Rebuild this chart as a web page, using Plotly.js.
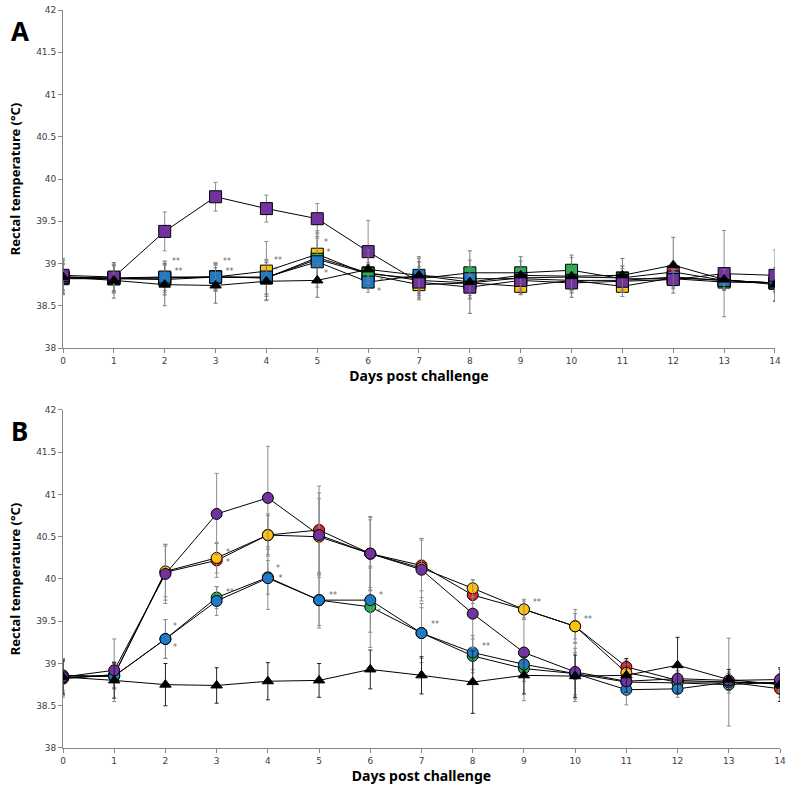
<!DOCTYPE html>
<html><head><meta charset="utf-8">
<script src="https://cdn.plot.ly/plotly-3.0.1.min.js"></script>
<style>body{margin:0;background:#fff}#g{width:792px;height:793px}</style>
</head><body><div id="g"></div>
<script>
const days = [0,1,2,3,4,5,6,7,8,9,10,11,12,13,14];

// Panel A (squares)
const aRed    = [38.82,38.82,38.83,38.84,38.83,39.07,38.89,38.80,38.77,38.83,38.84,38.83,38.90,38.80,38.77];
const aYellow = [38.83,38.82,38.83,38.84,38.91,39.11,38.87,38.75,38.77,38.73,38.80,38.73,38.83,38.80,38.77];
const aGreen  = [38.84,38.82,38.81,38.84,38.83,39.05,38.88,38.82,38.89,38.89,38.92,38.82,38.82,38.78,38.77];
const aBlue   = [38.84,38.83,38.84,38.84,38.84,39.02,38.78,38.86,38.82,38.82,38.80,38.80,38.84,38.80,38.77];
const aPurple = [38.86,38.84,39.38,39.79,39.65,39.53,39.14,38.78,38.72,38.80,38.77,38.79,38.81,38.88,38.86];
const aRedErr    = [0.18,0.15,0.15,0.14,0.20,0.30,0.12,0.22,0.15,0.12,0.15,0.14,0.10,0.10,0.10];
const aYellowErr = [0.20,0.17,0.20,0.17,0.35,0.28,0.12,0.18,0.18,0.10,0.14,0.12,0.10,0.10,0.10];
const aGreenErr  = [0.16,0.16,0.18,0.16,0.22,0.25,0.10,0.20,0.15,0.14,0.15,0.15,0.12,0.10,0.12];
const aBlueErr   = [0.15,0.15,0.18,0.15,0.20,0.30,0.12,0.20,0.14,0.12,0.12,0.14,0.10,0.10,0.10];
const aPurpleErr = [0.20,0.17,0.23,0.17,0.16,0.18,0.37,0.18,0.14,0.12,0.12,0.10,0.10,0.51,0.30];

// Panel B (circles)
const bRed    = [38.82,38.87,40.08,40.22,40.52,40.58,40.30,40.16,39.81,39.64,39.44,38.96,38.80,38.78,38.70];
const bYellow = [38.83,38.86,40.09,40.25,40.52,40.50,40.30,40.13,39.89,39.64,39.44,38.89,38.78,38.78,38.77];
const bGreen  = [38.84,38.85,39.29,39.78,40.02,39.75,39.67,39.36,39.09,38.94,38.88,38.78,38.77,38.75,38.78];
const bBlue   = [38.86,38.85,39.29,39.74,40.01,39.75,39.75,39.36,39.13,38.99,38.88,38.69,38.70,38.78,38.76];
const bPurple = [38.84,38.92,40.06,40.77,40.96,40.52,40.30,40.11,39.59,39.13,38.90,38.79,38.82,38.80,38.81];
const bRedErr    = [0.22,0.15,0.33,0.20,0.25,0.52,0.43,0.30,0.10,0.10,0.20,0.08,0.10,0.10,0.10];
const bYellowErr = [0.20,0.15,0.30,0.18,0.23,0.45,0.40,0.35,0.10,0.12,0.15,0.10,0.08,0.10,0.10];
const bGreenErr  = [0.18,0.15,0.23,0.13,0.20,0.30,0.48,0.30,0.20,0.15,0.25,0.15,0.10,0.10,0.10];
const bBlueErr   = [0.18,0.15,0.23,0.17,0.37,0.33,0.38,0.35,0.20,0.15,0.30,0.18,0.10,0.52,0.10];
const bPurpleErr = [0.22,0.37,0.35,0.48,0.61,0.50,0.44,0.37,0.40,0.57,0.35,0.15,0.10,0.10,0.12];

// Control (triangles), same in both panels
const control    = [38.84,38.80,38.75,38.74,38.79,38.80,38.93,38.86,38.78,38.86,38.85,38.86,38.98,38.81,38.75];
const controlErr = [0.20,0.21,0.25,0.21,0.22,0.20,0.23,0.22,0.37,0.22,0.25,0.20,0.33,0.12,0.20];

// significance marks: [day, y, text, xshift]
const starsA = [[2,38.96,'**<br> **',13],[3,38.96,'**<br> **',13],[4,38.98,'**<br>*',12],
  [5,39.06,'*<br> *<br> *<br>*',10],[6,38.73,' *<br>*',12]];
const starsB = [[2,39.31,'*<br><br>*',10],[3,40.25,'*<br>*',11],[3,39.84,'**',13],
  [4,40.06,'*<br> *',12],[5,39.80,'**',14],[6,39.81,'*',11],[6,39.60,'*',9],
  [7,39.46,'**',13],[8,39.20,'**',13],[9,39.72,'**',13],[10,39.52,'**',13]];

const colors = {red:'#E5242B', yellow:'#FFC20E', green:'#22B14C', blue:'#1F7BC6', purple:'#7232A0'};

function tr(y, err, color, symbol, size, xa, ya, ecol){
  return {x: days, y: y, type:'scatter', mode:'lines+markers', xaxis:xa, yaxis:ya,
    line:{color:'#000', width:1},
    marker:{symbol:symbol, size:size, color:color, line:{color:'#000', width:1}},
    error_y:{type:'data', array:err, visible:true, color:ecol||'#8c8c8c', thickness:1, width:2},
    showlegend:false, hoverinfo:'skip'};
}

const data = [
  tr(aRed, aRedErr, colors.red, 'square', 12, 'x', 'y'),
  tr(aYellow, aYellowErr, colors.yellow, 'square', 12, 'x', 'y'),
  tr(aGreen, aGreenErr, colors.green, 'square', 12, 'x', 'y'),
  tr(aBlue, aBlueErr, colors.blue, 'square', 12, 'x', 'y'),
  tr(aPurple, aPurpleErr, colors.purple, 'square', 12, 'x', 'y'),
  tr(control, controlErr, '#000', 'triangle-up', 10, 'x', 'y', '#777'),
  tr(bRed, bRedErr, colors.red, 'circle', 11, 'x2', 'y2'),
  tr(bYellow, bYellowErr, colors.yellow, 'circle', 11, 'x2', 'y2'),
  tr(bGreen, bGreenErr, colors.green, 'circle', 11, 'x2', 'y2'),
  tr(bBlue, bBlueErr, colors.blue, 'circle', 11, 'x2', 'y2'),
  tr(bPurple, bPurpleErr, colors.purple, 'circle', 11, 'x2', 'y2'),
  tr(control, controlErr, '#000', 'triangle-up', 10, 'x2', 'y2', '#222')
];

const tickFont = {family:'DejaVu Sans', size:9, color:'#404040'};
const titleFont = {family:'Noto Sans', size:14, color:'#000', weight:'bold'};
const yTitleFont = {family:'Noto Sans', size:13, color:'#000', weight:'bold'};

function xax(domain, anchor){
  return {domain:domain, anchor:anchor, range:[0,14], tickmode:'array', tickvals:days, ticktext:days.map(String),
    ticks:'outside', ticklen:4, tickcolor:'#888', showline:true, linecolor:'#888', linewidth:1,
    showgrid:false, zeroline:false, tickfont:tickFont, automargin:false,
    title:{text:'Days post challenge', font:titleFont, standoff:3}};
}
function yax(domain, anchor){
  return {domain:domain, anchor:anchor, range:[38,42], tickmode:'array',
    tickvals:[38,38.5,39,39.5,40,40.5,41,41.5,42], ticktext:['38','38.5','39','39.5','40','40.5','41','41.5','42'],
    ticks:'outside', ticklen:4, tickcolor:'#888', showline:true, linecolor:'#888', linewidth:1,
    showgrid:false, zeroline:false, tickfont:tickFont, automargin:false,
    title:{text:'Rectal temperature (°C)', font:yTitleFont, standoff:12}};
}

const starAnn = (list, xr, yr) => list.map(s => ({x:s[0], y:s[1], xref:xr, yref:yr, text:s[2], showarrow:false,
  xshift:s[3], align:'left', font:{family:'DejaVu Sans', size:8, color:'#666'}}));

const layout = {
  width:792, height:793, paper_bgcolor:'#fff', plot_bgcolor:'#fff',
  margin:{l:63, r:12, t:10, b:45},
  xaxis: xax([0, 0.993], 'y'),
  yaxis: yax([0.542, 1], 'x'),
  xaxis2: xax([0, 1], 'y2'),
  yaxis2: yax([0, 0.458], 'x2'),
  annotations: [
    {text:'A', xref:'paper', yref:'paper', x:-0.06, y:0.972, xanchor:'center', yanchor:'middle', showarrow:false,
      font:{family:'Noto Sans', size:26, color:'#000', weight:'bold'}},
    {text:'B', xref:'paper', yref:'paper', x:-0.06, y:0.43, xanchor:'center', yanchor:'middle', showarrow:false,
      font:{family:'Noto Sans', size:26, color:'#000', weight:'bold'}}
  ].concat(starAnn(starsA,'x','y')).concat(starAnn(starsB,'x2','y2'))
};

Plotly.newPlot('g', data, layout, {displayModeBar:false, staticPlot:true});
</script>
</body></html>
